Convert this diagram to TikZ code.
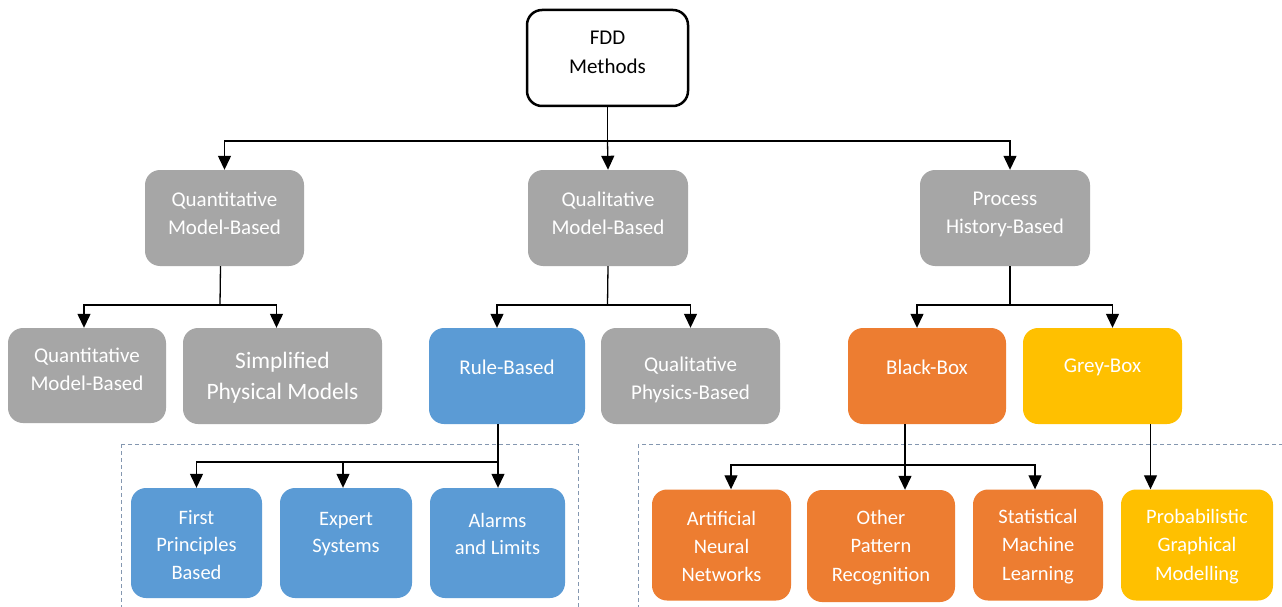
\documentclass[tikz,border=0pt]{standalone}
\usepackage{fontspec}
\setmainfont{Carlito}
\usetikzlibrary{arrows.meta}
\definecolor{cgray}{HTML}{A6A6A6}
\definecolor{cblue}{HTML}{5B9BD5}
\definecolor{corange}{HTML}{ED7D31}
\definecolor{cyellow}{HTML}{FFC000}
\definecolor{cdash}{HTML}{8497B0}
\tikzset{
  box/.style={rectangle, rounded corners=15pt, draw=none, inner sep=0pt},
  lbl/.style={text=white, align=center, font=\fontsize{21}{28}\selectfont},
  lblsm/.style={text=white, align=center, font=\fontsize{20.5}{27.5}\selectfont},
  lblr/.style={text=white, align=center, font=\fontsize{20.5}{28.3}\selectfont},
  lblbig/.style={text=white, align=center, font=\fontsize{23.5}{31}\selectfont},
  lbltop/.style={text=black, align=center, font=\fontsize{21}{28.5}\selectfont},
  conn/.style={line width=1.3pt, draw=black},
  arr/.style={conn, -{Triangle[width=13pt,length=14pt]}},
  grp/.style={draw=cdash, dashed, line width=1pt, dash pattern=on 4pt off 3pt},
}
\begin{document}
\begin{tikzpicture}[x=1pt,y=-1pt]
\useasboundingbox (0,0) rectangle (1282,607);
\clip (0,0) rectangle (1282,607);
\fill[white] (0,0) rectangle (1282,607);

% dashed group frames
\draw[grp] (121,444) rectangle (578,640);
\draw[grp] (638,444) rectangle (1300,640);

% top
\node[box, draw=black, line width=2.5pt, fill=white, minimum width=161pt, minimum height=96pt,
  label={[lbltop, yshift=5.5pt]center:{FDD\\Methods}}] (fdd) at (607.5,58) {};

% level 2
\node[box, fill=cgray, minimum width=159pt, minimum height=96pt,
  label={[lbl, yshift=5pt]center:{Quantitative\\Model-Based}}] (quant) at (224.5,218) {};
\node[box, fill=cgray, minimum width=160pt, minimum height=96pt,
  label={[lbl, yshift=5pt]center:{Qualitative\\Model-Based}}] (qual) at (608,218) {};
\node[box, fill=cgray, minimum width=170pt, minimum height=96pt,
  label={[lbl, yshift=4pt]center:{Process\\History-Based}}] (proc) at (1005,218) {};

% level 3
\node[box, fill=cgray, minimum width=158pt, minimum height=95pt,
  label={[lbl, yshift=6pt]center:{Quantitative\\Model-Based}}] (qmb) at (87,375.5) {};
\node[box, fill=cgray, minimum width=199pt, minimum height=96pt,
  label={[lblbig, yshift=-2pt]center:{Simplified\\Physical Models}}] (spm) at (282.5,376) {};
\node[box, fill=cblue, minimum width=156pt, minimum height=96pt,
  label={[lbl, yshift=9pt]center:{Rule-Based}}] (rule) at (507,376) {};
\node[box, fill=cgray, minimum width=179pt, minimum height=96pt,
  label={[lbl, yshift=-4pt]center:{Qualitative\\Physics-Based}}] (qpb) at (690.5,376) {};
\node[box, fill=corange, minimum width=158pt, minimum height=96pt,
  label={[lbl, yshift=9pt]center:{Black-Box}}] (bb) at (927,376) {};
\node[box, fill=cyellow, minimum width=159pt, minimum height=96pt,
  label={[lbl, yshift=9pt]center:{Grey-Box}}] (gb) at (1102.5,376) {};

% level 4 left
\node[box, fill=cblue, minimum width=131pt, minimum height=110pt,
  label={[lblsm, yshift=-2pt]center:{First\\Principles\\Based}}] (fpb) at (196.5,543) {};
\node[box, fill=cblue, minimum width=132pt, minimum height=110pt,
  label={[lblsm, yshift=9pt]center:{Expert\\Systems}}] (es) at (346,543) {};
\node[box, fill=cblue, minimum width=135pt, minimum height=110pt,
  label={[lblsm, yshift=9pt]center:{Alarms\\and Limits}}] (al) at (497.5,543) {};

% level 4 right
\node[box, fill=corange, minimum width=139pt, minimum height=111pt,
  label={[lblr, yshift=-1.5pt]center:{Artificial\\Neural\\Networks}}] (ann) at (721.5,545) {};
\node[box, fill=corange, minimum width=148pt, minimum height=112pt,
  label={[lblr, yshift=-1.5pt]center:{Other\\Pattern\\Recognition}}] (opr) at (881,546) {};
\node[box, fill=corange, minimum width=130pt, minimum height=111pt,
  label={[lblr, yshift=-1.5pt]center:{Statistical\\Machine\\Learning}}] (sml) at (1038,545) {};
\node[box, fill=cyellow, minimum width=152pt, minimum height=111pt,
  label={[lblr, yshift=-1.5pt]center:{Probabilistic\\Graphical\\Modelling}}] (pgm) at (1197,545) {};

% connectors: top
\coordinate (j0) at (607.5,141);
\draw[conn] (fdd.south) -- (j0);
\draw[arr] (j0) -| (quant.north);
\draw[arr] (j0) -- (qual.north);
\draw[arr] (j0) -| ([xshift=5pt]proc.north);

% quantitative
\coordinate (j1) at (220,305);
\draw[conn] ([xshift=-4pt]quant.south) -- (j1);
\draw[arr] (j1) -| ([xshift=-3pt]qmb.north);
\draw[arr] (j1) -| ([xshift=-6pt]spm.north);

% qualitative
\coordinate (j2) at (607.5,305);
\draw[conn] (qual.south) -- (j2);
\draw[arr] (j2) -| ([xshift=-10pt]rule.north);
\draw[arr] (j2) -| (qpb.north);

% process history
\coordinate (j3) at (1010,305);
\draw[conn] ([xshift=5pt]proc.south) -- (j3);
\draw[arr] (j3) -| ([xshift=-10pt]bb.north);
\draw[arr] (j3) -| ([xshift=10pt]gb.north);

% rule-based children
\coordinate (j4) at (498,462);
\draw[conn] ([xshift=-9pt]rule.south) -- (j4);
\draw[arr] (j4) -| (fpb.north);
\draw[arr] (j4) -| ([xshift=-3pt]es.north);
\draw[arr] (j4) -- ([xshift=0.5pt]al.north);

% black-box children
\coordinate (j5) at (905,465);
\draw[conn] ([xshift=-22pt]bb.south) -- (j5);
\draw[arr] (j5) -| ([xshift=9.5pt]ann.north);
\draw[arr] (j5) -- ([xshift=24pt]opr.north);
\draw[arr] (j5) -| ([xshift=-3pt]sml.north);

% grey-box child
\draw[arr] ([xshift=48pt]gb.south) -- ([xshift=-46.5pt]pgm.north);
\end{tikzpicture}
\end{document}
